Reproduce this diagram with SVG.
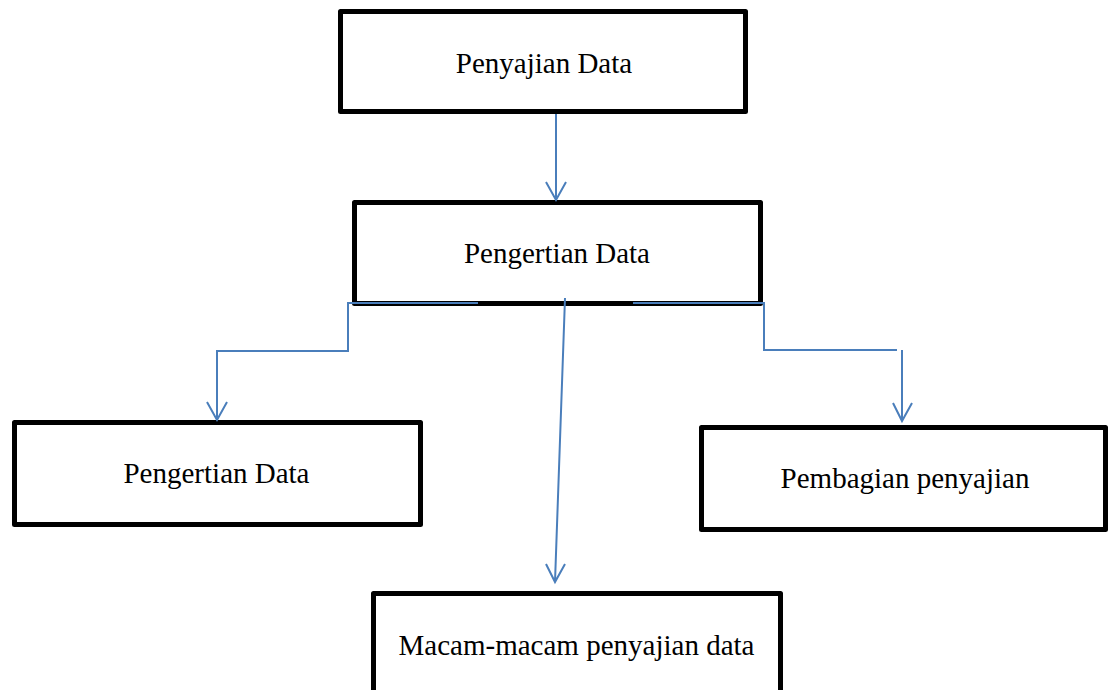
<svg xmlns="http://www.w3.org/2000/svg" width="1109" height="690" viewBox="0 0 1109 690">
<style>
.box{fill:#fff;stroke:#000;stroke-width:5;stroke-linejoin:round}
.lbl{font-family:"Liberation Serif","Times New Roman",serif;font-size:29px;fill:#000;text-anchor:middle}
.con{fill:none;stroke:#4A7EBB;stroke-width:2}
</style>
<rect width="1109" height="690" fill="#fff"/>
<g id="n1"><rect class="box" x="340.5" y="11.5" width="405" height="100"/><text class="lbl" x="544" y="73">Penyajian Data</text></g>
<g id="n2"><rect class="box" x="354.5" y="202.5" width="406" height="101"/><text class="lbl" x="557" y="263">Pengertian Data</text></g>
<g id="n3"><rect class="box" x="14.5" y="422.5" width="406" height="102"/><text class="lbl" x="216.5" y="483">Pengertian Data</text></g>
<g id="n4"><rect class="box" x="701.5" y="427.5" width="404" height="102"/><text class="lbl" x="905" y="488">Pembagian penyajian</text></g>
<g id="n5"><rect class="box" x="373.5" y="593.5" width="407" height="110"/><text class="lbl" x="576.5" y="655">Macam-macam penyajian data</text></g>
<g id="connectors">
<path class="con" d="M556 114V200M546 182L556 200L566 182"/>
<path class="con" d="M478 303H348V351H217V420M207 402L217 420L227 402"/>
<path class="con" d="M565 298L555 582M546 564L555 582L565 564"/>
<path class="con" d="M633 303H764V350H897"/>
<path class="con" d="M902 350V421M893 403L902 421L912 403"/>
</g>
</svg>
